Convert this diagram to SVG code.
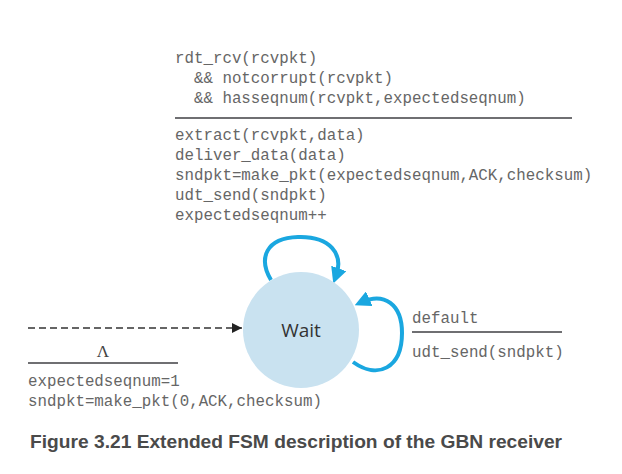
<svg xmlns="http://www.w3.org/2000/svg" width="622" height="474" viewBox="0 0 622 474">
<defs>
<style>
.mono{font-family:"Liberation Mono","Courier New",monospace;font-size:15.8px;fill:#666}
.rule{stroke:#6f6f72;stroke-width:2}
.loop{fill:none;stroke:#1aa7e0;stroke-width:4}
</style>
<marker id="ab" viewBox="0 0 10 10" refX="5" refY="5" markerWidth="4" markerHeight="4" orient="auto" markerUnits="strokeWidth">
<path d="M0,0 L10,5 L0,10 z" fill="#1aa7e0"/>
</marker>
<marker id="ak" viewBox="0 0 10 10" refX="10" refY="5" markerWidth="10" markerHeight="10" orient="auto" markerUnits="userSpaceOnUse">
<path d="M0,0 L10,5 L0,10 z" fill="#222"/>
</marker>
</defs>
<rect width="622" height="474" fill="#fff"/>
<g id="connectors">
<line x1="28" y1="328" x2="242" y2="328" stroke="#333" stroke-width="1.3" stroke-dasharray="7,4" marker-end="url(#ak)"/>
<path class="loop" d="M271,280 C258,258 266,238 298,237 C330,236 344,254 336,276" marker-end="url(#ab)"/>
<path class="loop" d="M353,362 C378,380 402,368 402,333 C402,304 384,292 362,302" marker-end="url(#ab)"/>
</g>
<g id="wait">
<circle cx="301" cy="330" r="58" fill="#c9e2f0"/>
<text x="301" y="337" text-anchor="middle" font-family="'Open Sans','Liberation Sans',sans-serif" font-size="19" fill="#333">Wait</text>
</g>
<g id="label-top">
<text class="mono" x="175" y="63">rdt_rcv(rcvpkt)</text>
<text class="mono" x="175" y="83" xml:space="preserve">  &amp;&amp; notcorrupt(rcvpkt)</text>
<text class="mono" x="175" y="103" xml:space="preserve">  &amp;&amp; hasseqnum(rcvpkt,expectedseqnum)</text>
<line class="rule" x1="175" y1="118" x2="572" y2="118"/>
<text class="mono" x="175" y="140">extract(rcvpkt,data)</text>
<text class="mono" x="175" y="160">deliver_data(data)</text>
<text class="mono" x="175" y="180">sndpkt=make_pkt(expectedseqnum,ACK,checksum)</text>
<text class="mono" x="175" y="200">udt_send(sndpkt)</text>
<text class="mono" x="175" y="220">expectedseqnum++</text>
</g>
<g id="label-init">
<text x="103" y="357" text-anchor="middle" font-family="'Liberation Serif',serif" font-size="17" fill="#444">Λ</text>
<line class="rule" x1="28" y1="363" x2="178" y2="363"/>
<text class="mono" x="28" y="386">expectedseqnum=1</text>
<text class="mono" x="28" y="406">sndpkt=make_pkt(0,ACK,checksum)</text>
</g>
<g id="label-default">
<text class="mono" x="412" y="323">default</text>
<line class="rule" x1="412" y1="332" x2="562" y2="332"/>
<text class="mono" x="412" y="357">udt_send(sndpkt)</text>
</g>
<text x="30" y="448" font-family="'Liberation Sans',Arial,sans-serif" font-weight="bold" font-size="19.2" fill="#4a4a4a">Figure 3.21 Extended FSM description of the GBN receiver</text>
</svg>
